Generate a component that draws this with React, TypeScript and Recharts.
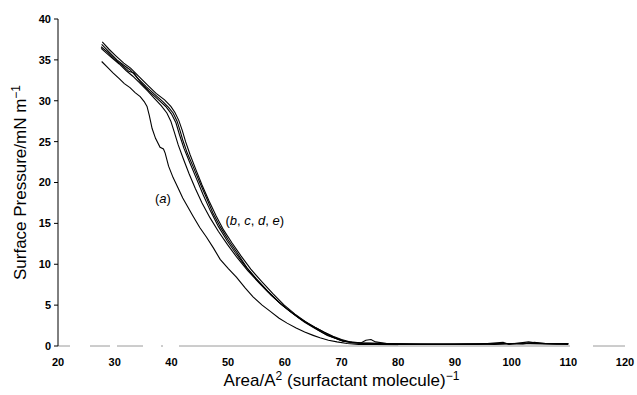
import { LineChart, Line, XAxis, YAxis, Label, ReferenceDot } from "recharts";

const xTicks = [20, 30, 40, 50, 60, 70, 80, 90, 100, 110, 120];
const yTicks = [0, 5, 10, 15, 20, 25, 30, 35, 40];

// [area, pressure]
const curveA: number[][] = [
  [27.7, 34.8], [28.7, 34.1], [29.7, 33.4], [30.8, 32.7], [31.7, 32.1], [32.7, 31.6],
  [33.6, 31.0], [34.5, 30.5], [35.2, 29.9], [35.7, 29.3], [36.1, 28.2], [36.6, 26.6],
  [37.2, 25.4], [38.0, 24.3], [38.6, 24.1], [38.9, 23.6], [39.5, 22.0], [40.3, 20.6],
  [41.2, 19.3], [42.0, 18.1], [42.9, 17.0], [43.8, 15.9], [45.0, 14.5], [46.2, 13.3],
  [47.4, 12.0], [48.6, 10.6], [50.0, 9.5], [51.5, 8.4], [53.0, 7.1], [54.4, 6.0],
  [56.0, 5.0], [57.5, 4.2], [59.0, 3.4], [60.4, 2.8], [62.0, 2.2], [63.5, 1.7],
  [65.0, 1.3], [66.2, 1.0], [67.7, 0.7], [69.2, 0.5], [71.0, 0.3], [73.0, 0.2],
  [76.0, 0.2], [80.0, 0.15],
];

const curveB: number[][] = [
  [27.7, 36.9], [28.7, 36.2], [29.7, 35.5], [30.4, 35.0], [31.5, 34.4], [32.7, 33.8],
  [34.0, 32.8], [35.6, 31.7], [37.0, 30.8], [38.5, 29.9], [39.5, 29.2], [40.3, 28.5],
  [41.0, 27.5], [41.5, 26.4], [42.0, 25.2], [42.8, 23.6], [43.8, 22.0], [45.0, 20.0],
  [46.2, 18.1], [47.3, 16.3], [48.6, 14.6], [50.0, 13.0], [51.5, 11.5], [53.3, 9.6],
  [55.0, 8.2], [57.0, 6.7], [59.2, 5.2], [61.0, 4.2], [62.8, 3.3], [64.4, 2.6],
  [66.0, 1.9], [67.5, 1.3], [69.2, 0.9], [70.5, 0.6], [72.0, 0.4], [74.0, 0.3],
  [76.0, 0.3], [80.0, 0.2], [85.0, 0.2], [90.0, 0.2], [95.0, 0.25], [100.0, 0.3],
  [104.0, 0.35], [108.0, 0.25], [110.0, 0.3],
];

const curveC: number[][] = [
  [27.6, 36.6], [28.8, 35.9], [30.0, 35.1], [31.4, 34.3], [32.5, 33.6], [33.4, 33.4],
  [34.5, 32.3], [36.0, 31.2], [37.6, 30.2], [39.0, 29.3], [40.0, 28.4], [40.8, 27.3],
  [41.4, 25.9], [42.2, 24.2], [43.2, 22.5], [44.4, 20.5], [45.6, 18.5], [46.9, 16.5],
  [48.3, 14.6], [49.8, 12.9], [51.3, 11.4], [53.0, 9.8], [54.9, 8.2], [56.8, 6.8],
  [58.9, 5.4], [60.8, 4.3], [62.6, 3.4], [64.2, 2.7], [65.8, 2.1], [67.4, 1.5],
  [68.8, 1.0], [70.2, 0.6], [71.8, 0.45], [73.5, 0.4], [74.3, 0.7], [75.2, 0.8],
  [76.0, 0.5], [78.0, 0.3], [82.0, 0.25], [88.0, 0.2], [94.0, 0.2], [98.5, 0.45],
  [99.5, 0.2], [103.0, 0.5], [105.0, 0.3], [110.0, 0.25],
];

const curveD: number[][] = [
  [27.8, 37.2], [29.0, 36.3], [30.2, 35.5], [31.6, 34.6], [32.8, 34.0], [34.2, 33.0],
  [35.8, 31.9], [37.3, 30.9], [38.8, 30.1], [39.9, 29.3], [40.6, 28.6], [41.3, 27.6],
  [41.9, 26.4], [42.5, 25.0], [43.3, 23.4], [44.3, 21.6], [45.4, 19.7], [46.6, 17.8],
  [47.9, 15.9], [49.2, 14.2], [50.7, 12.6], [52.3, 11.0], [54.0, 9.4], [55.9, 7.9],
  [57.9, 6.4], [59.9, 5.0], [61.8, 3.9], [63.6, 3.0], [65.3, 2.3], [66.9, 1.7],
  [68.5, 1.2], [70.0, 0.8], [71.6, 0.5], [73.2, 0.4], [75.0, 0.35], [78.0, 0.3],
  [84.0, 0.25], [90.0, 0.25], [96.0, 0.3], [102.0, 0.25], [104.0, 0.45], [106.0, 0.3],
  [110.0, 0.3],
];

const curveE: number[][] = [
  [27.6, 36.4], [28.6, 35.8], [29.6, 35.2], [30.8, 34.5], [32.0, 33.7], [33.2, 33.0],
  [34.4, 32.2], [35.8, 31.2], [37.0, 30.3], [38.2, 29.4], [39.2, 28.5], [39.9, 27.5],
  [40.5, 26.2], [41.2, 24.6], [42.1, 22.9], [43.1, 21.1], [44.2, 19.3], [45.4, 17.5],
  [46.8, 15.7], [48.3, 14.0], [49.9, 12.4], [51.6, 10.8], [53.5, 9.2], [55.5, 7.7],
  [57.6, 6.2], [59.7, 4.9], [61.7, 3.8], [63.5, 2.9], [65.2, 2.2], [66.8, 1.6],
  [68.3, 1.1], [69.8, 0.7], [71.4, 0.45], [73.0, 0.35], [76.0, 0.3], [80.0, 0.2],
  [86.0, 0.2], [92.0, 0.25], [97.0, 0.2], [101.0, 0.3], [110.0, 0.2],
];

const series = [curveA, curveB, curveC, curveD, curveE];

const toRows = (c: number[][]) => c.map(([x, y]) => ({ x, y }));

const font = "'Liberation Sans', Arial, sans-serif";
const tickStyle = { fontSize: 11, fontWeight: 700, fill: "#000", fontFamily: font };

function Annotation({ cx, cy, letters }: { cx?: number; cy?: number; letters: string[] }) {
  if (cx == null || cy == null) return null;
  return (
    <text x={cx} y={cy} textAnchor="middle" dominantBaseline="central" fontSize={13} fontFamily={font} fill="#000">
      (
      {letters.map((l, i) => (
        <tspan key={i}>
          <tspan fontStyle="italic">{l}</tspan>
          {i < letters.length - 1 ? ", " : ""}
        </tspan>
      ))}
      )
    </text>
  );
}

export default function App() {
  return (
    <>
      <style>{"body{margin:0}"}</style>
      <LineChart width={637} height={395} margin={{ top: 19, right: 12, left: 0, bottom: 19 }}>
        <XAxis
          type="number"
          dataKey="x"
          domain={[20, 120]}
          ticks={xTicks}
          allowDataOverflow
          tickLine={false}
          tickSize={6}
          tickMargin={6}
          height={30}
          tick={tickStyle}
          axisLine={{ stroke: "#9a9a9a", strokeWidth: 1, strokeDasharray: "12 20 20 7 26 18 2 16 391 23 40" }}
        >
          <Label
            content={({ viewBox }: any) => {
              const vb = viewBox ?? { x: 58, y: 346, width: 567 };
              return (
                <text x={vb.x + vb.width / 2} y={386} textAnchor="middle" fontSize={17} fontFamily={font} fill="#000">
                  Area/A<tspan fontSize={12} dy={-6}>2</tspan>
                  <tspan dy={6}> (surfactant molecule)</tspan>
                  <tspan fontSize={12} dy={-6}>−1</tspan>
                </text>
              );
            }}
          />
        </XAxis>
        <YAxis
          type="number"
          domain={[0, 40]}
          ticks={yTicks}
          width={58}
          tickSize={4}
          tickMargin={3}
          tick={tickStyle}
          axisLine={{ stroke: "#000" }}
          tickLine={{ stroke: "#000" }}
        >
          <Label
            content={({ viewBox }: any) => {
              const vb = viewBox ?? { x: 0, y: 19, height: 327 };
              const cy = vb.y + vb.height / 2;
              return (
                <text
                  x={26}
                  y={cy}
                  transform={`rotate(-90 26 ${cy})`}
                  textAnchor="middle"
                  fontSize={17}
                  fontFamily={font}
                  fill="#000"
                >
                  Surface Pressure/mN m<tspan fontSize={12} dy={-6}>−1</tspan>
                </text>
              );
            }}
          />
        </YAxis>
        {series.map((c, i) => (
          <Line
            key={i}
            data={toRows(c)}
            dataKey="y"
            type="linear"
            stroke="#000"
            strokeWidth={1.1}
            dot={false}
            activeDot={false}
            isAnimationActive={false}
          />
        ))}
        <ReferenceDot x={38.5} y={18.1} r={0} shape={(p: any) => <Annotation cx={p.cx} cy={p.cy} letters={["a"]} />} />
        <ReferenceDot
          x={54.7}
          y={15.4}
          r={0}
          shape={(p: any) => <Annotation cx={p.cx} cy={p.cy} letters={["b", "c", "d", "e"]} />}
        />
      </LineChart>
    </>
  );
}
